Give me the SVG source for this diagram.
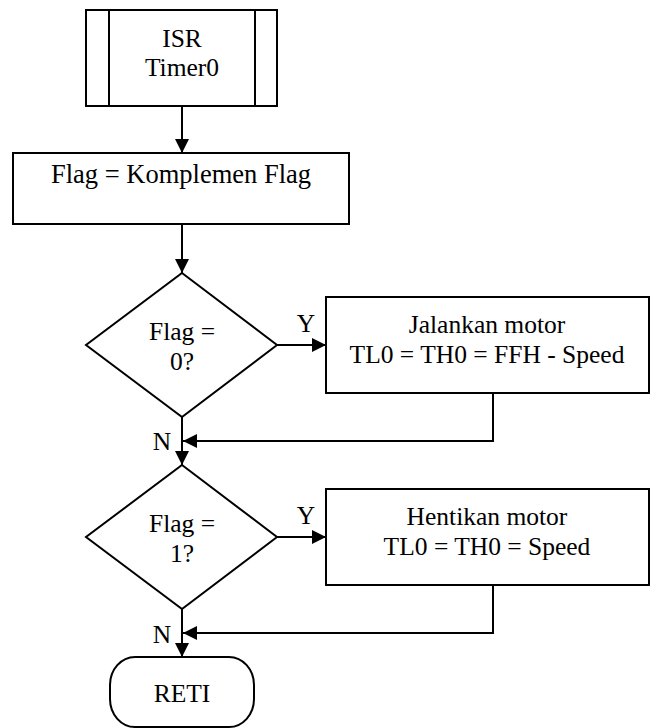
<svg xmlns="http://www.w3.org/2000/svg" width="650" height="728" viewBox="0 0 650 728">
<style>
  .s { fill: #fff; stroke: #000; stroke-width: 2; }
  .l { fill: none; stroke: #000; stroke-width: 2; }
  .t { font-family: 'Liberation Serif', 'Times New Roman', Times, serif; font-size: 25.5px; fill: #000; text-anchor: middle; }
</style>
<defs>
  <marker id="ah" markerWidth="14" markerHeight="14" refX="14" refY="7" orient="auto" markerUnits="userSpaceOnUse">
    <path d="M0,0 L14,7 L0,14 Z" fill="#000"/>
  </marker>
</defs>
<rect width="650" height="728" fill="#fff"/>
<g id="connectors">
  <line class="l" x1="182" y1="106" x2="182" y2="153" marker-end="url(#ah)"/>
  <line class="l" x1="182" y1="224" x2="182" y2="273" marker-end="url(#ah)"/>
  <line class="l" x1="277" y1="345" x2="326" y2="345" marker-end="url(#ah)"/>
  <polyline class="l" points="493,393 493,441 183,441" marker-end="url(#ah)"/>
  <line class="l" x1="182" y1="417" x2="182" y2="465" marker-end="url(#ah)"/>
  <line class="l" x1="277" y1="537" x2="326" y2="537" marker-end="url(#ah)"/>
  <polyline class="l" points="493,585 493,633 183,633" marker-end="url(#ah)"/>
  <line class="l" x1="182" y1="609" x2="182" y2="657" marker-end="url(#ah)"/>
  <g class="t">
    <text x="306" y="332">Y</text>
    <text x="162" y="450">N</text>
    <text x="306" y="524">Y</text>
    <text x="162" y="643">N</text>
  </g>
</g>
<g id="isr" class="t">
  <rect class="s" x="86" y="10" width="191" height="96"/>
  <line class="l" x1="109" y1="10" x2="109" y2="106"/>
  <line class="l" x1="255" y1="10" x2="255" y2="106"/>
  <text x="182" y="47">ISR</text>
  <text x="182" y="76">Timer0</text>
</g>
<g id="flag" class="t">
  <rect class="s" x="13" y="153" width="336" height="71"/>
  <text x="181" y="183" font-size="26.5">Flag = Komplemen Flag</text>
</g>
<g id="dec0" class="t">
  <polygon class="s" points="182,273 277,345 182,417 86,345"/>
  <text x="182" y="340">Flag =</text>
  <text x="182" y="370">0?</text>
</g>
<g id="run" class="t">
  <rect class="s" x="326" y="297" width="323" height="96"/>
  <text x="487" y="333">Jalankan motor</text>
  <text x="487" y="363">TL0 = TH0 = FFH - Speed</text>
</g>
<g id="dec1" class="t">
  <polygon class="s" points="182,465 277,537 182,609 86,537"/>
  <text x="182" y="532">Flag =</text>
  <text x="182" y="562">1?</text>
</g>
<g id="stop" class="t">
  <rect class="s" x="326" y="489" width="323" height="96"/>
  <text x="487" y="525">Hentikan motor</text>
  <text x="487" y="555">TL0 = TH0 = Speed</text>
</g>
<g id="reti" class="t">
  <rect class="s" x="110" y="657" width="144" height="70" rx="25" ry="28"/>
  <text x="182" y="702">RETI</text>
</g>
</svg>
